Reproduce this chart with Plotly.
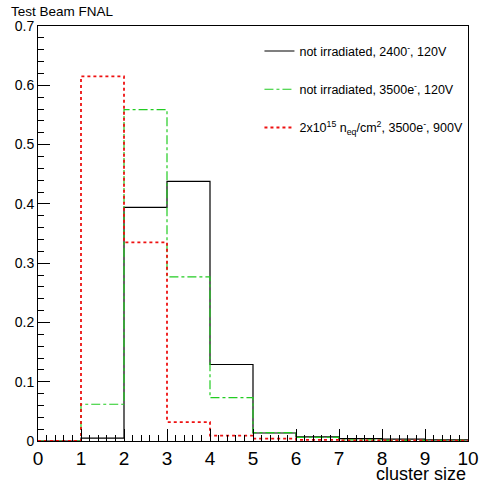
import plotly.graph_objects as go

bin_edges = [0, 1, 2, 3, 4, 5, 6, 7, 8, 9, 10]
black_vals = [0.0, 0.005, 0.394, 0.438, 0.129, 0.0135, 0.007, 0.004, 0.003, 0.002]
green_vals = [0.0, 0.062, 0.559, 0.277, 0.073, 0.014, 0.006, 0.002, 0.001, 0.001]
red_vals = [0.0, 0.615, 0.335, 0.032, 0.009, 0.004, 0.002, 0.001, 0.001, 0.0005]
names = [
    "not irradiated, 2400<sup>-</sup>, 120V",
    "not irradiated, 3500e<sup>-</sup>, 120V",
    "2x10<sup>15</sup> n<sub>eq</sub>/cm<sup>2</sup>, 3500e<sup>-</sup>, 900V",
]

FONT = "Liberation Sans, Arial, sans-serif"

def step(vals):
    return bin_edges, list(vals) + [vals[-1]]

fig = go.Figure()
styles = [("black", "solid", 1.2), ("#22cc22", "dashdot", 1.2), ("#ee1111", "3px,3px", 1.8)]
for vals, name, (c, d, w), g in zip([black_vals, green_vals, red_vals], names, styles, ["a", "b", "c"]):
    x, y = step(vals)
    fig.add_trace(go.Scatter(x=x, y=y, mode="lines", line=dict(shape="hv", color=c, dash=d, width=w),
                             name=name, legendgroup=g))

fig.update_layout(
    width=486, height=483,
    margin=dict(l=38, r=18, t=26, b=42),
    paper_bgcolor="white", plot_bgcolor="white",
    font=dict(family=FONT, color="black"),
    showlegend=True,
    legend=dict(x=0.515, y=0.975, xanchor="left", yanchor="top", bgcolor="rgba(0,0,0,0)",
                font=dict(size=12.5, family=FONT), tracegroupgap=19, itemwidth=30),
    xaxis=dict(range=[0, 10], tickvals=list(range(11)), ticks="inside", ticklen=12, tickwidth=1,
               tickcolor="black", tickfont=dict(size=19, family=FONT), showgrid=False, zeroline=False,
               showline=True, linecolor="black", linewidth=1, mirror=True, automargin=False,
               minor=dict(ticks="inside", ticklen=6, dtick=0.2, tickcolor="black", showgrid=False)),
    yaxis=dict(range=[0, 0.7], tickvals=[0, 0.1, 0.2, 0.3, 0.4, 0.5, 0.6, 0.7],
               ticktext=["0", "0.1", "0.2", "0.3", "0.4", "0.5", "0.6", "0.7"],
               ticks="inside", ticklen=12, tickwidth=1, tickcolor="black", automargin=False,
               tickfont=dict(size=14, family=FONT), showgrid=False, zeroline=False,
               showline=True, linecolor="black", linewidth=1, mirror=True,
               minor=dict(ticks="inside", ticklen=6, dtick=0.02, tickcolor="black", showgrid=False)),
)
fig.add_annotation(text="Test Beam FNAL", xref="paper", yref="paper", x=-0.067, y=1.0, yshift=5,
                   xanchor="left", yanchor="bottom", showarrow=False, font=dict(size=13.5, family=FONT))
fig.add_annotation(text="cluster size", xref="paper", yref="paper", x=1.0, y=0, yshift=-45,
                   xanchor="right", yanchor="bottom", showarrow=False, font=dict(size=18, family=FONT))
fig.write_html("out.html")
